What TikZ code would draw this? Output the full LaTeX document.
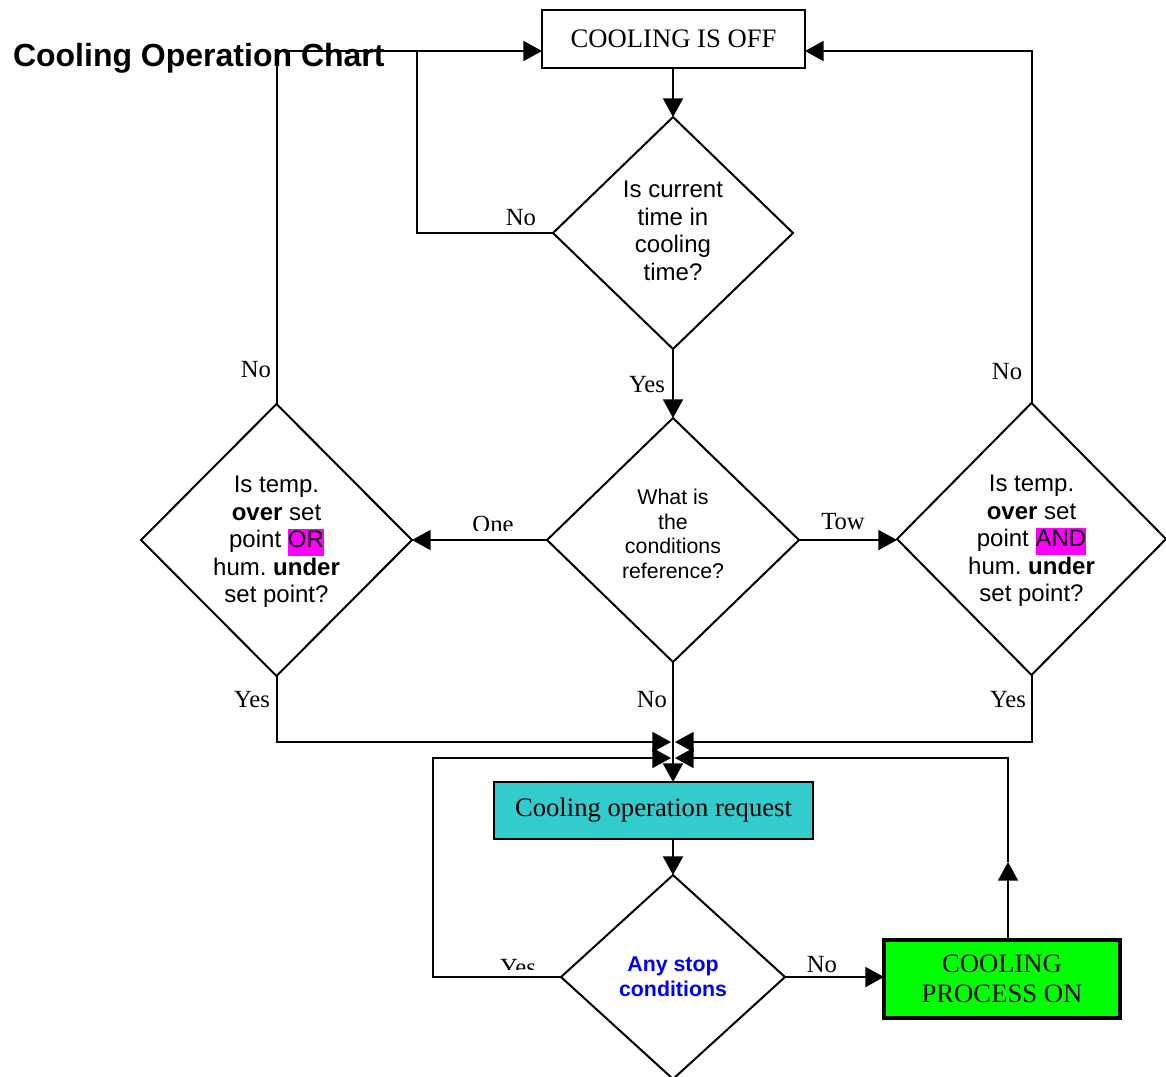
\documentclass[tikz,border=0pt]{standalone}
\usepackage{fontspec}
\setmainfont{Liberation Serif}
\newfontfamily\arialfont{Liberation Sans}
\usetikzlibrary{shapes.geometric,arrows.meta}
\definecolor{reqfill}{HTML}{33CCCC}
\definecolor{onfill}{HTML}{00FF00}
\definecolor{hlmag}{HTML}{FF00FF}
\definecolor{stopblue}{HTML}{0000FF}
\frenchspacing
% highlighted keyword inside a decision text
\newcommand\hilite[1]{{\setlength{\fboxsep}{0pt}\colorbox{hlmag}{\strut #1}}}

\begin{document}
\begin{tikzpicture}[x=0.75pt,y=-0.75pt,
  line width=1.5pt,
  arr/.style={-{Triangle[length=14pt,width=15pt]}},
  decision/.style={draw, diamond, inner sep=0pt, outer sep=0pt},
  qtext/.style={align=center, font=\arialfont\fontsize{18}{20.6}\selectfont, inner sep=0pt},
  lbl/.style={font=\fontsize{18.5}{20}\selectfont, inner sep=0pt},
  stepbox/.style={draw, rectangle, inner sep=0pt, outer sep=0pt, align=center,
                  font=\fontsize{20}{22.5}\selectfont}
]
\useasboundingbox (0,0) rectangle (1166,1076);

% title
\node[anchor=base west, inner sep=0pt, font=\arialfont\bfseries\fontsize{24}{28}\selectfont]
  (title) at (12,66) {Cooling Operation Chart};

% boxes
\node[stepbox, minimum width=197.25pt, minimum height=43.5pt] (off) at (673.5,39) {COOLING IS OFF};
\node[stepbox, fill=reqfill, minimum width=239.25pt, minimum height=42.75pt] (req) at (653.5,810.5) {Cooling operation request};
\node[stepbox, fill=onfill, line width=3pt, minimum width=177pt, minimum height=58.5pt] (on) at (1002,979) {COOLING\\PROCESS ON};

% decisions
\node[decision, minimum width=180pt, minimum height=174pt] (d1) at (673,233) {};
\node[qtext] (t1) at (673,231) {Is current\\time in\\cooling\\time?};

\node[decision, minimum width=189pt, minimum height=183pt] (d2) at (673,540) {};
\node[qtext, font=\arialfont\fontsize{16}{18.4}\selectfont] (t2) at (673,534) {What is\\the\\conditions\\reference?};

\node[decision, minimum width=203.25pt, minimum height=204pt] (dL) at (276.5,540) {};
\node[qtext] (tL) at (276.5,542) {Is temp.\\\textbf{over} set\\point \hilite{OR}\\hum. \textbf{under}\\set point?};

\node[decision, minimum width=201.75pt, minimum height=204pt] (dR) at (1031.5,539) {};
\node[qtext] (tR) at (1031.5,541) {Is temp.\\\textbf{over} set\\point \hilite{AND}\\hum. \textbf{under}\\set point?};

\node[decision, minimum width=168pt, minimum height=153pt] (d3) at (673,977) {};
\node[qtext, font=\arialfont\bfseries\fontsize{16}{18.75}\selectfont, text=stopblue] (t3) at (673,977) {Any stop\\conditions};

% junction points
\coordinate (offL) at (off.west |- 0,51);
\coordinate (offR) at (off.east |- 0,51);
\coordinate (jN) at (417,51);
\coordinate (mL1) at (671,742);
\coordinate (mR1) at (675,742);
\coordinate (mL2) at (671,758);
\coordinate (mR2) at (675,758);
\coordinate (bl) at (433,758);
\coordinate (upA) at (1008,862);
\coordinate (br) at (1008,758);

% connectors
\draw[arr] (d1.north |- off.south) -- (d1.north);
\draw[arr] (d1.south) -- (d2.north);
\draw (d1.west) -| (jN);
\draw[arr] (dL.north) |- (offL);
\draw[arr] (dR.north) |- (offR);
\draw[arr] (d2.west) -- (dL.east);
\draw[arr] (d2.east) -- (d2.east -| dR.west);
\draw[arr] (dL.south) |- (mL1);
\draw[arr] (dR.south) |- (mR1);
\draw[arr] (d2.south) -- (req.north -| d2.south);
\draw[arr] (req.south -| d3.north) -- (d3.north);
\draw[arr] (d3.west) -| (bl) -- (mL2);
\draw[arr] (d3.east) -- (d3.east -| on.west);
\draw[arr] (on.north -| upA) -- (upA);
\draw[arr] (upA) -- (br) -- (mR2);

% branch labels
\node[lbl] (lNo1) at (521,218) {No};
\node[lbl] (lYes1) at (647,385) {Yes};
\begin{scope}
  \clip (440,500) rectangle (560,530);
  \node[lbl] (lOne) at (493,524) {One};
\end{scope}
\node[lbl] (lTow) at (843,522) {Tow};
\node[lbl] (lNoL) at (256,370) {No};
\node[lbl] (lNoR) at (1007,372) {No};
\node[lbl] (lYesL) at (252,700) {Yes};
\node[lbl] (lNo2) at (652,700) {No};
\node[lbl] (lYesR) at (1008,700) {Yes};
\begin{scope}
  \clip (470,940) rectangle (560,969);
  \node[lbl] (lYes3) at (518,968) {Yes};
\end{scope}
\node[lbl] (lNo3) at (822,964.5) {No};
\end{tikzpicture}
\end{document}
